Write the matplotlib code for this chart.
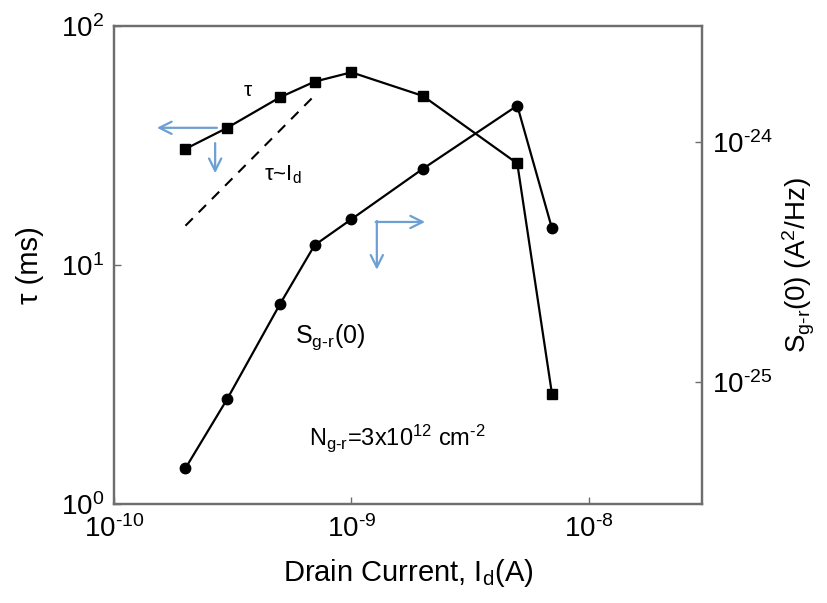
import matplotlib
matplotlib.use("Agg")
import math
import matplotlib.pyplot as plt
from matplotlib.ticker import FixedLocator, NullLocator, FuncFormatter

plt.rcParams['font.family'] = ['Liberation Sans', 'DejaVu Sans']
plt.rcParams['mathtext.fontset'] = 'custom'
plt.rcParams['mathtext.rm'] = 'Liberation Sans'
plt.rcParams['mathtext.it'] = 'Liberation Sans:italic'
plt.rcParams['mathtext.sf'] = 'Liberation Sans'

# Generation-recombination noise data versus drain current
drain_current = [2e-10, 3e-10, 5e-10, 7e-10, 1e-9, 2e-9, 5e-9, 7e-9]
tau_ms = [30.6, 37.5, 50.3, 58.5, 64.0, 51.0, 26.6, 2.89]
s_gr_zero = [4.37e-26, 8.5e-26, 2.11e-25, 3.72e-25, 4.77e-25, 7.74e-25, 1.42e-24, 4.37e-25]

# Linear reference trend, tau ~ I_d
trend_current = [2e-10, 7e-10]
trend_tau = [14.6, 51.2]

x_ticks = [1e-10, 1e-9, 1e-8]
tau_ticks = [1e0, 1e1, 1e2]
s_ticks = [1e-25, 1e-24]

spine_color = '#6e6e6e'
arrow_color = '#6c9fd3'


def decade_label(value, pos):
    exp = int(round(math.log10(value)))
    exp_txt = str(exp).replace('-', r'\text{-}')
    return r'10$^{\mathregular{%s}}$' % exp_txt


fig = plt.figure(figsize=(8.28, 6.03), dpi=100)
ax = fig.add_axes([0.1377, 0.1642, 0.7101, 0.7927])
ax2 = ax.twinx()

ax.set_xscale('log')
ax.set_yscale('log')
ax2.set_yscale('log')
ax.set_xlim(1e-10, 3e-8)
ax.set_ylim(1e0, 1e2)
ax2.set_ylim(3.1e-26, 3.05e-24)

ax.plot(drain_current, tau_ms, color='black', lw=1.6, marker='s', ms=6.5,
        mfc='black', mec='black')
ax.plot(trend_current, trend_tau, color='black', lw=1.5, ls=(0, (5, 4)))
ax2.plot(drain_current, s_gr_zero, color='black', lw=1.6, marker='o', ms=7.5,
         mfc='black', mec='black')

for a in (ax, ax2):
    for s in a.spines.values():
        s.set_color(spine_color)
        s.set_linewidth(1.6)
    a.xaxis.set_minor_locator(NullLocator())
    a.yaxis.set_minor_locator(NullLocator())
    a.tick_params(which='major', direction='in', length=5, width=1,
                  color=spine_color, labelsize=20)

ax.xaxis.set_major_locator(FixedLocator(x_ticks))
ax.yaxis.set_major_locator(FixedLocator(tau_ticks))
ax2.yaxis.set_major_locator(FixedLocator(s_ticks))
ax.xaxis.set_major_formatter(FuncFormatter(decade_label))
ax.yaxis.set_major_formatter(FuncFormatter(decade_label))
ax2.yaxis.set_major_formatter(FuncFormatter(decade_label))
ax.tick_params(axis='x', pad=8, top=False)
ax.tick_params(axis='y', pad=7, right=False)
ax2.tick_params(axis='y', pad=7)

ax.set_xlabel(r'Drain Current, I$_\mathregular{d}$(A)', fontsize=21, labelpad=10)
ax.set_ylabel('τ (ms)', fontsize=21, labelpad=12)
ax2.set_ylabel(r'S$_\mathregular{g\text{-}r}$(0) (A$^\mathregular{2}$/Hz)', fontsize=20,
               labelpad=6)

# Annotations
ax.text(0.228, 0.866, 'τ', transform=ax.transAxes, fontsize=15,
        ha='center', va='center')
ax.text(0.287, 0.688, r'τ~I$_\mathregular{d}$', transform=ax.transAxes, fontsize=16,
        ha='center', va='center')
ax.text(0.367, 0.349, r'S$_\mathregular{g\text{-}r}$(0)', transform=ax.transAxes,
        fontsize=18, ha='center', va='center')
ax.text(0.332, 0.138,
        r'N$_\mathregular{g\text{-}r}$=3x10$^\mathregular{12}$ cm$^\mathregular{\text{-}2}$',
        transform=ax.transAxes, fontsize=17, ha='left', va='center')

arrow_kw = dict(arrowstyle='->', color=arrow_color, lw=1.6, mutation_scale=22,
                shrinkA=0, shrinkB=0)
# tau belongs to the left axis
ax.annotate('', xy=(0.073, 0.787), xytext=(0.175, 0.787),
            xycoords='axes fraction', arrowprops=arrow_kw)
ax.annotate('', xy=(0.172, 0.692), xytext=(0.172, 0.755),
            xycoords='axes fraction', arrowprops=arrow_kw)
# S_g-r(0) belongs to the right axis
ax.annotate('', xy=(0.529, 0.590), xytext=(0.445, 0.590),
            xycoords='axes fraction', arrowprops=arrow_kw)
ax.annotate('', xy=(0.447, 0.490), xytext=(0.447, 0.592),
            xycoords='axes fraction', arrowprops=arrow_kw)

fig.savefig('out.png', dpi=100)
